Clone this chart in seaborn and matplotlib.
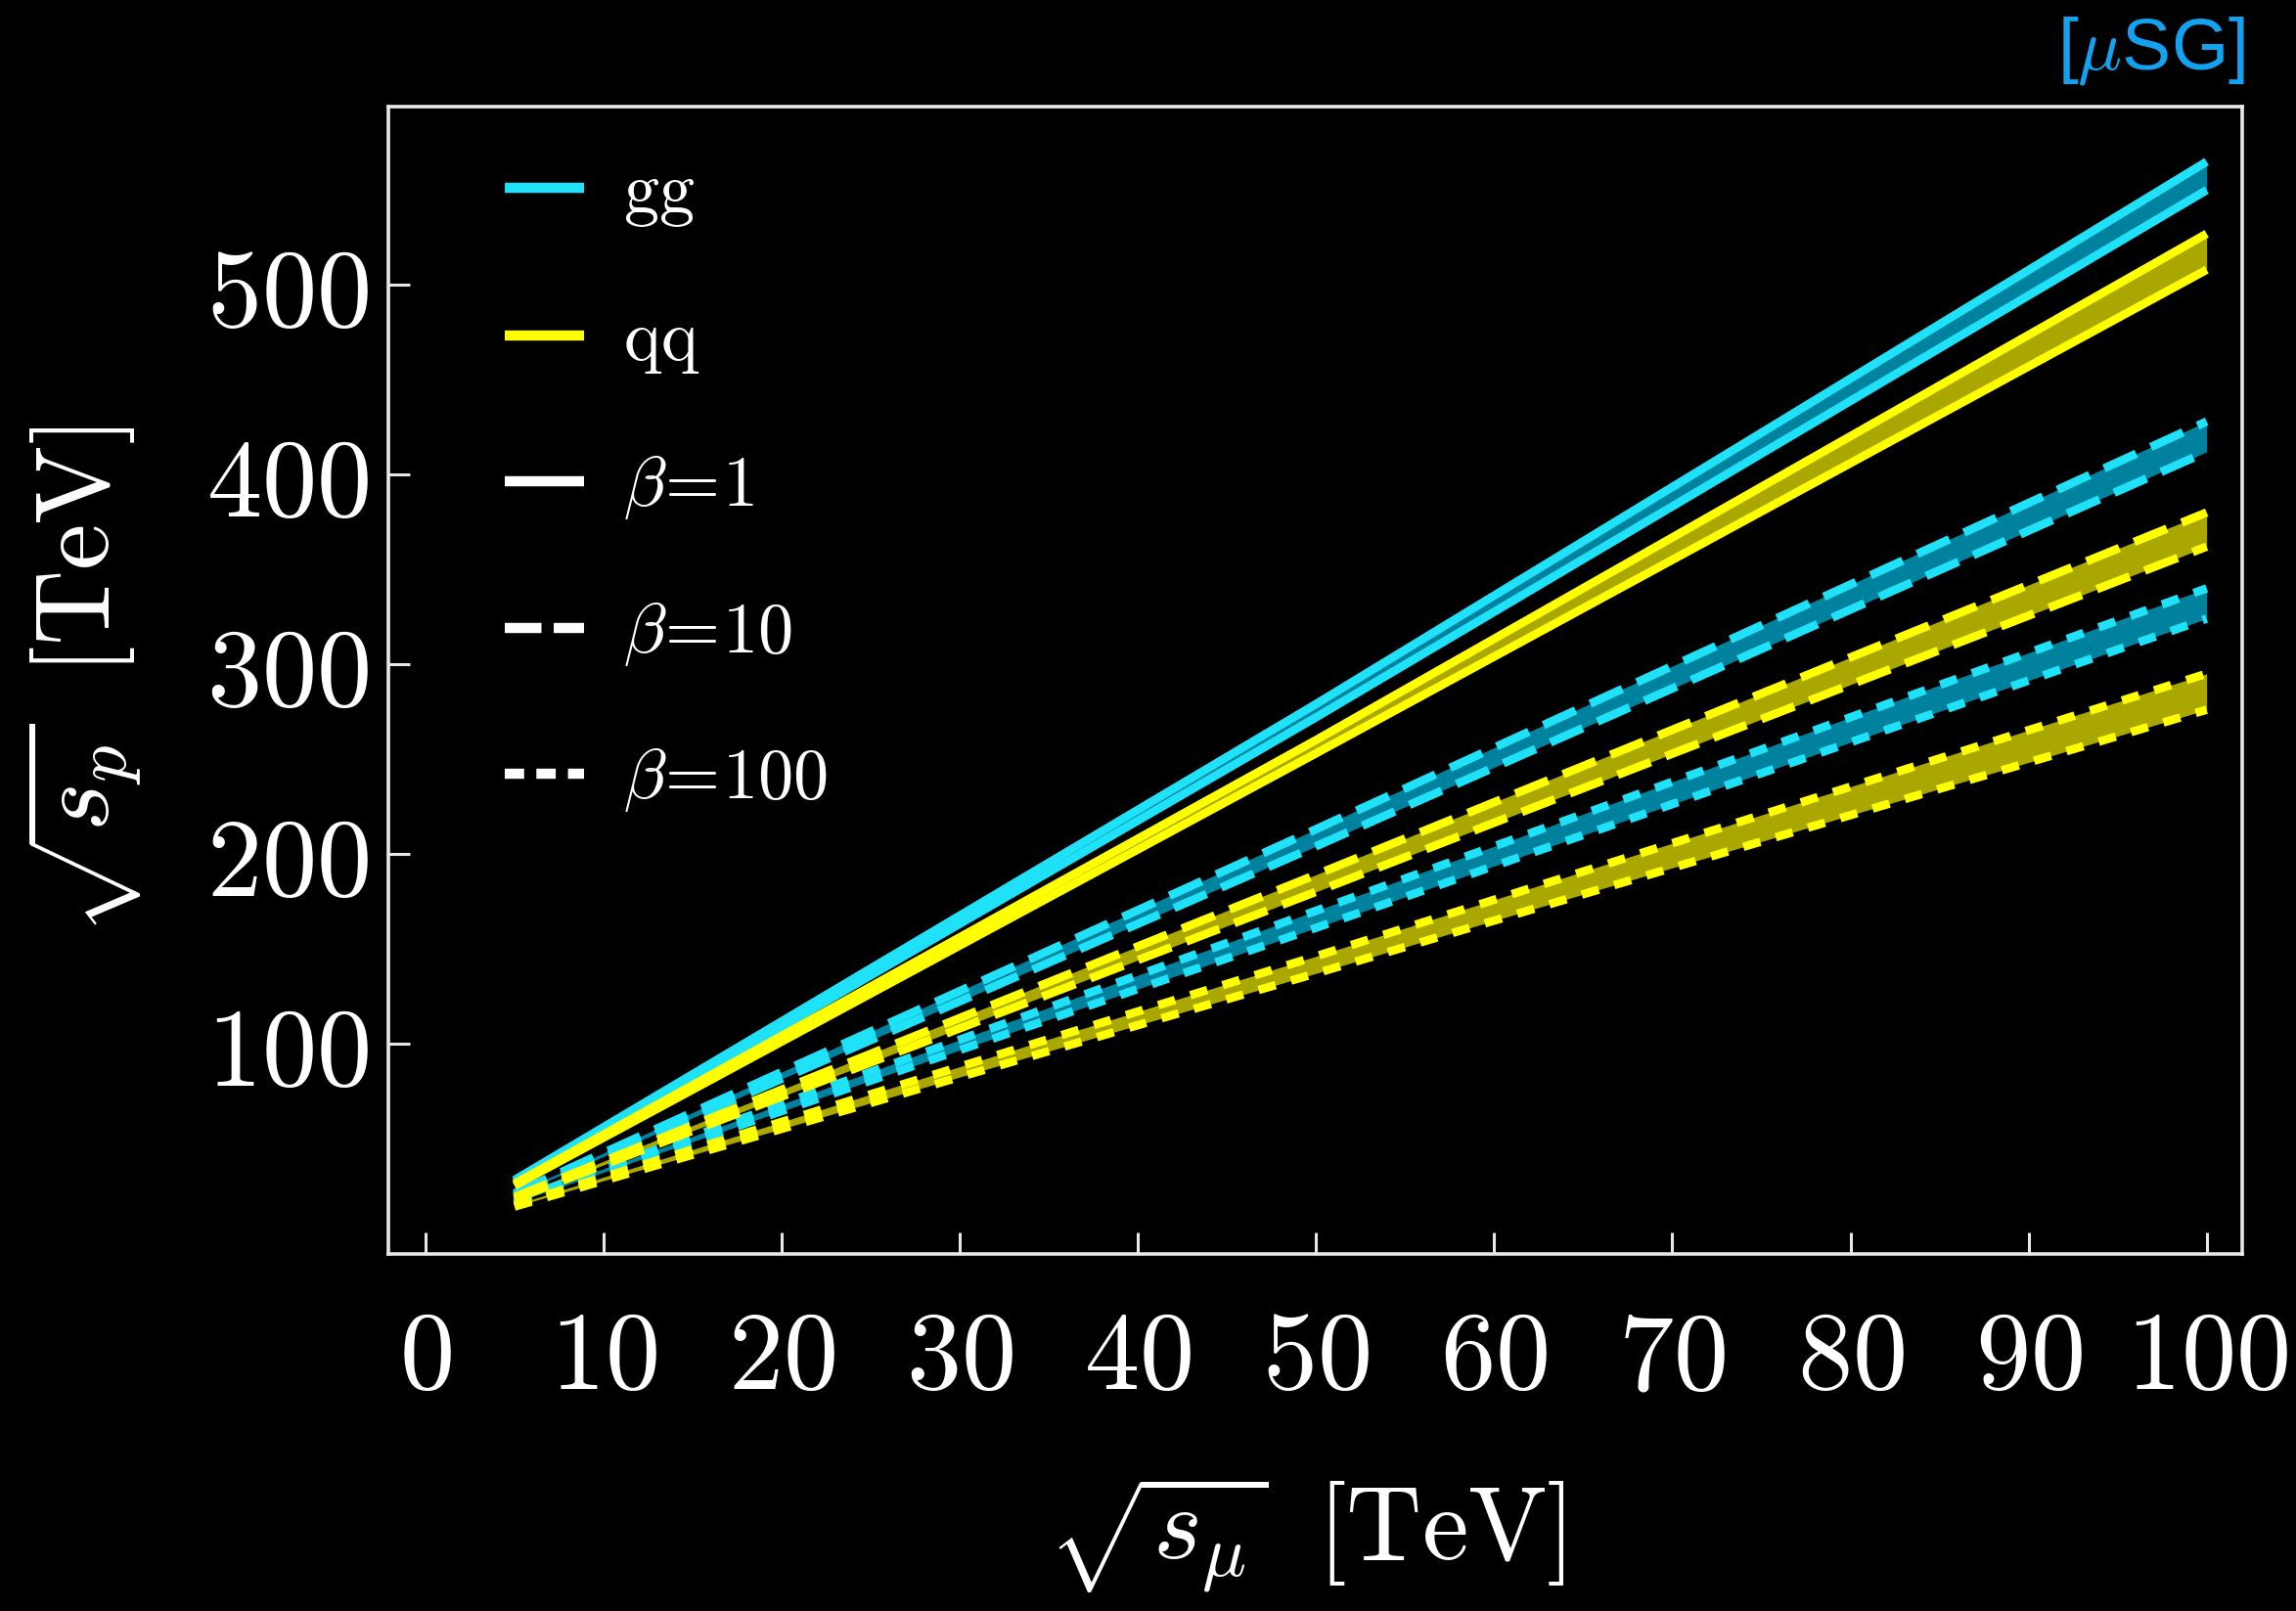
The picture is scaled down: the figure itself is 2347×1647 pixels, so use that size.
import numpy as np
import pandas as pd
import matplotlib
matplotlib.use("Agg")
import matplotlib.pyplot as plt
from matplotlib.lines import Line2D
from matplotlib.ticker import FuncFormatter, FixedLocator
import seaborn as sns

# ---------------- data ----------------
sqrt_s_mu = [5, 50, 100]

gg_b1_hi = [28, 279, 565]
gg_b1_lo = [27, 272, 550]
qq_b1_hi = [26, 260, 527]
qq_b1_lo = [25, 253, 508]

gg_b10_hi = [21, 213, 428]
gg_b10_lo = [20, 204, 412]
qq_b10_hi = [19, 189, 380]
qq_b10_lo = [18, 180, 362]

gg_b100_hi = [17, 170, 340]
gg_b100_lo = [16, 161, 324]
qq_b100_hi = [15, 146, 295]
qq_b100_lo = [14, 137, 276]

x_ticks = [0, 10, 20, 30, 40, 50, 60, 70, 80, 90, 100]
y_ticks = [100, 200, 300, 400, 500]
legend_labels = [r"$\mathrm{gg}$", r"$\mathrm{qq}$", r"$\beta\!=\!1$", r"$\beta\!=\!10$", r"$\beta\!=\!100$"]

# ---------------- style ----------------
sns.set_style("dark")
plt.rcParams["mathtext.fontset"] = "cm"
plt.rcParams["font.family"] = ["DejaVu Serif"]

CYAN = "#1fe1f8"
CYAN_FILL = "#00829f"
YELLOW = "#ffff00"
YELLOW_FILL = "#aaa800"
LW = 6.2
styles = {
    "b1": "-",
    "b10": (0, (4.2, 1.9)),
    "b100": (0, (2.1, 1.9)),
}

fig = plt.figure(figsize=(23.47, 16.47), dpi=100, facecolor="black")
ax = fig.add_axes([0.169, 0.2216, 0.9766 - 0.169, 0.9338 - 0.2216])
ax.set_facecolor("black")

bands = [
    (gg_b100_hi, gg_b100_lo, "b100", CYAN, CYAN_FILL),
    (gg_b10_hi, gg_b10_lo, "b10", CYAN, CYAN_FILL),
    (gg_b1_hi, gg_b1_lo, "b1", CYAN, CYAN_FILL),
    (qq_b100_hi, qq_b100_lo, "b100", YELLOW, YELLOW_FILL),
    (qq_b10_hi, qq_b10_lo, "b10", YELLOW, YELLOW_FILL),
    (qq_b1_hi, qq_b1_lo, "b1", YELLOW, YELLOW_FILL),
]

for hi, lo, b, col, fcol in bands:
    ax.fill_between(sqrt_s_mu, lo, hi, color=fcol, linewidth=0)
    for arr in (hi, lo):
        df = pd.DataFrame({"x": sqrt_s_mu, "y": arr})
        sns.lineplot(data=df, x="x", y="y", ax=ax, color=col, linewidth=LW,
                     linestyle=styles[b], errorbar=None,
                     solid_capstyle="butt", dash_capstyle="butt")

ax.set_xlim(-2.1, 102.0)
ax.set_ylim(-11, 594)

ax.xaxis.set_major_locator(FixedLocator(x_ticks))
ax.yaxis.set_major_locator(FixedLocator(y_ticks))
fmt = FuncFormatter(lambda v, p: r"$%d$" % int(round(v)))
ax.xaxis.set_major_formatter(fmt)
ax.yaxis.set_major_formatter(fmt)

ax.tick_params(axis="both", which="major", direction="in", length=16, width=2.2,
               color="#e8e8e8", labelcolor="white", labelsize=81,
               bottom=True, left=True, top=False, right=False)
ax.tick_params(axis="x", pad=38)
ax.tick_params(axis="y", pad=14)

for sp in ax.spines.values():
    sp.set_visible(True)
    sp.set_color("#e8e8e8")
    sp.set_linewidth(2.6)

ax.grid(False)

ax.set_xlabel(r"$\sqrt{s_\mu}\;\;[\mathrm{TeV}]$", fontsize=77, color="white")
ax.set_ylabel(r"$\sqrt{s_p}\;\;[\mathrm{TeV}]$", fontsize=77, color="white")
ax.xaxis.set_label_coords(0.495, -0.192)
ax.yaxis.set_label_coords(-0.131, 0.5)

LLW = 7.5
handles = [
    Line2D([], [], color=CYAN, lw=LLW, solid_capstyle="butt"),
    Line2D([], [], color=YELLOW, lw=LLW, solid_capstyle="butt"),
    Line2D([], [], color="white", lw=LLW, linestyle="-", solid_capstyle="butt"),
    Line2D([], [], color="white", lw=LLW, linestyle=(0, (3.6, 1.2)), dash_capstyle="butt"),
    Line2D([], [], color="white", lw=LLW, linestyle=(0, (1.9, 1.2)), dash_capstyle="butt"),
]
leg = ax.legend(handles, legend_labels, loc="upper left", bbox_to_anchor=(0.063, 0.955),
                frameon=False, fontsize=52, labelcolor="white", handlelength=1.12,
                handletextpad=0.55, labelspacing=1.08, borderpad=0, borderaxespad=0)

fig.text(2199 / 2347, 1 - 52 / 1647, r"[$\mu$SG]", color="#12a2f0", fontsize=54,
         family=["Liberation Sans", "DejaVu Sans"], ha="center", va="center")

fig.savefig("out.png", dpi=100, facecolor="black")
